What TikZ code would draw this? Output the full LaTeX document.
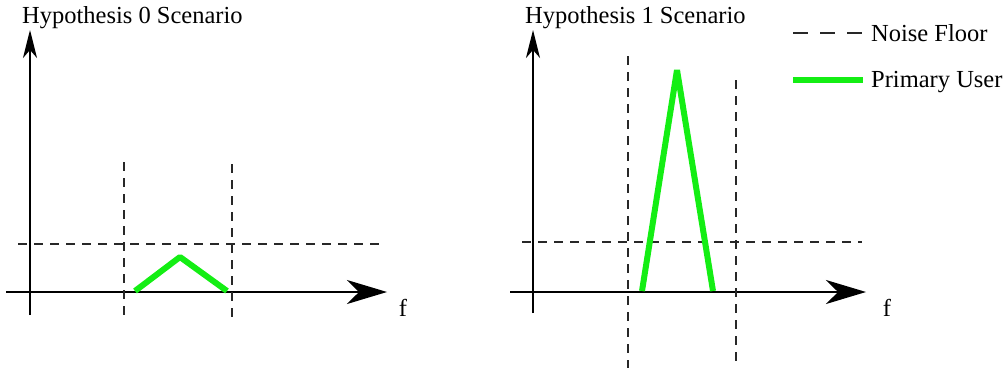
\documentclass[tikz,border=0pt]{standalone}
\usepackage{fontspec}
\setmainfont{Liberation Serif}
\usetikzlibrary{arrows.meta}
\definecolor{puser}{RGB}{20,238,20}
\definecolor{dashgray}{RGB}{40,40,40}
\tikzset{
  axis/.style={line width=1.6pt, black},
  xarr/.style={axis, -{Stealth[length=40pt,width=24pt,inset=12pt]}},
  yarr/.style={axis, -{Stealth[length=28pt,width=14pt,inset=8pt]}},
  nfloor/.style={line width=1.3pt, dashgray, dash pattern=on 9pt off 7pt},
  pu/.style={line width=6pt, puser, line join=bevel},
  lbl/.style={font=\fontsize{24.5}{26}\selectfont, inner sep=0pt},
}
\begin{document}
\begin{tikzpicture}[x=1pt,y=-1pt]
\useasboundingbox (0,0) rectangle (1008,372);
% ---------- left panel ----------
\node[lbl, anchor=base west] (t0) at (22,23) {Hypothesis 0 Scenario};
\coordinate (ay0s) at (30,315); \coordinate (ay0e) at (30,30);
\coordinate (ax0s) at (6,292);  \coordinate (ax0e) at (387,292);
\draw[yarr] (ay0s) -- (ay0e);
\draw[xarr] (ax0s) -- (ax0e);
\coordinate (v0as) at (124,162); \coordinate (v0ae) at (124,318);
\coordinate (v0bs) at (232,164); \coordinate (v0be) at (232,318);
\coordinate (h0s) at (18,244); \coordinate (h0e) at (384,244);
\draw[nfloor] (v0as) -- (v0ae);
\draw[nfloor] (v0bs) -- (v0be);
\draw[nfloor] (h0s) -- (h0e);
\coordinate (g0a) at (135,291); \coordinate (g0b) at (180,257); \coordinate (g0c) at (227,291);
\draw[pu] (g0a) -- (g0b) -- (g0c);
\node[lbl] (f0) at (403,308) {f};
% ---------- right panel ----------
\node[lbl, anchor=base west] (t1) at (525,23) {Hypothesis 1 Scenario};
\coordinate (ay1s) at (533,313); \coordinate (ay1e) at (533,30);
\coordinate (ax1s) at (510,292); \coordinate (ax1e) at (866,292);
\draw[yarr] (ay1s) -- (ay1e);
\draw[xarr] (ax1s) -- (ax1e);
\coordinate (v1as) at (628,56); \coordinate (v1ae) at (628,368);
\coordinate (v1bs) at (736,80); \coordinate (v1be) at (736,368);
\coordinate (h1s) at (522,242); \coordinate (h1e) at (862,242);
\draw[nfloor] (v1as) -- (v1ae);
\draw[nfloor] (v1bs) -- (v1be);
\draw[nfloor] (h1s) -- (h1e);
\coordinate (g1a) at (642,291); \coordinate (g1b) at (677,70); \coordinate (g1c) at (713,291);
\draw[pu] (g1a) -- (g1b) -- (g1c);
\node[lbl] (f1) at (887,308) {f};
% ---------- legend ----------
\coordinate (l1s) at (793,33); \coordinate (l1e) at (865,33);
\draw[line width=2pt, dashgray, dash pattern=on 15pt off 12pt] (l1s) -- (l1e);
\node[lbl, anchor=base west] (nf) at (871,41) {Noise Floor};
\coordinate (l2s) at (793,80); \coordinate (l2e) at (863,80);
\draw[pu] (l2s) -- (l2e);
\node[lbl, anchor=base west] (pul) at (871,87) {Primary User};
\end{tikzpicture}
\end{document}
